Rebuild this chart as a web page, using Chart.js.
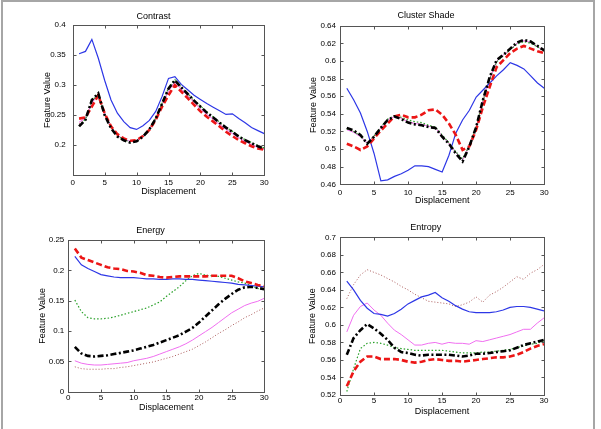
<!DOCTYPE html>
<html>
<head>
<meta charset="utf-8">
<script src="https://cdn.jsdelivr.net/npm/chart.js@4"></script>
<style>
  body { margin: 0; background: #fff; }
  #page { position: relative; width: 601px; height: 429px; overflow: hidden; }
  #frame { position: absolute; left: 1px; top: 0; width: 590px; height: 440px;
           border-left: 2px solid #a6a6a6; border-top: 2px solid #a6a6a6; border-right: 2px solid #a6a6a6; }
  canvas { position: absolute; left: 0; top: 0; }
</style>
</head>
<body>
<div id="page">
  <div id="frame"></div>
  <canvas id="contrast" width="601" height="429"></canvas>
  <canvas id="shade" width="601" height="429"></canvas>
  <canvas id="energy" width="601" height="429"></canvas>
  <canvas id="entropy" width="601" height="429"></canvas>
</div>
<script>
const displacement = [1,2,3,4,5,6,7,8,9,10,11,12,13,14,15,16,17,18,19,20,21,22,23,24,25,26,27,28,29,30];
const xTicks = [0, 5, 10, 15, 20, 25, 30];

// Contrast
const contrastBlue = [0.352,0.356,0.376,0.345,0.308,0.275,0.253,0.239,0.229,0.226,0.232,0.241,0.256,0.281,0.311,0.314,0.301,0.292,0.283,0.276,0.269,0.263,0.257,0.251,0.252,0.244,0.237,0.229,0.224,0.219];
const contrastRed = [0.244,0.246,0.264,0.283,0.253,0.231,0.218,0.211,0.207,0.208,0.215,0.225,0.242,0.264,0.283,0.300,0.289,0.278,0.267,0.256,0.247,0.239,0.231,0.222,0.215,0.208,0.203,0.198,0.194,0.192];
const contrastBlack = [0.231,0.242,0.275,0.286,0.250,0.228,0.214,0.208,0.204,0.206,0.214,0.226,0.244,0.269,0.294,0.308,0.296,0.285,0.274,0.264,0.254,0.246,0.237,0.229,0.222,0.214,0.208,0.203,0.198,0.194];
const contrastGreen = [0.232,0.243,0.274,0.285,0.251,0.229,0.215,0.209,0.205,0.207,0.215,0.227,0.245,0.270,0.295,0.309,0.297,0.286,0.275,0.265,0.255,0.247,0.238,0.230,0.223,0.215,0.209,0.204,0.199,0.195];
const contrastPink = [0.238,0.245,0.270,0.284,0.252,0.230,0.216,0.210,0.206,0.207,0.214,0.226,0.243,0.267,0.290,0.305,0.293,0.282,0.271,0.260,0.251,0.243,0.234,0.226,0.219,0.212,0.206,0.201,0.196,0.193];
const contrastBrown = [0.235,0.244,0.272,0.285,0.251,0.229,0.215,0.209,0.205,0.207,0.214,0.226,0.244,0.268,0.292,0.307,0.295,0.284,0.273,0.262,0.253,0.245,0.236,0.228,0.221,0.213,0.207,0.202,0.197,0.194];

// Cluster Shade
const shadeBlue = [0.569,0.556,0.541,0.520,0.495,0.464,0.465,0.469,0.472,0.476,0.481,0.481,0.480,0.477,0.474,0.493,0.518,0.533,0.544,0.559,0.567,0.575,0.583,0.590,0.598,0.595,0.591,0.583,0.575,0.569];
const shadeRed = [0.506,0.503,0.499,0.503,0.512,0.521,0.529,0.537,0.539,0.536,0.536,0.539,0.544,0.545,0.539,0.529,0.516,0.499,0.503,0.522,0.548,0.571,0.593,0.601,0.609,0.614,0.617,0.614,0.611,0.609];
const shadeBlack = [0.524,0.521,0.516,0.506,0.514,0.524,0.533,0.537,0.534,0.530,0.528,0.527,0.525,0.524,0.514,0.506,0.495,0.486,0.503,0.525,0.556,0.582,0.601,0.607,0.614,0.621,0.624,0.622,0.617,0.612];
const shadeGreen = [0.523,0.520,0.515,0.507,0.515,0.525,0.534,0.538,0.536,0.533,0.531,0.530,0.527,0.525,0.516,0.507,0.497,0.489,0.504,0.526,0.555,0.580,0.599,0.606,0.613,0.619,0.622,0.620,0.616,0.611];
const shadePink = [0.522,0.519,0.514,0.507,0.515,0.524,0.533,0.537,0.535,0.531,0.529,0.528,0.526,0.524,0.515,0.506,0.496,0.488,0.503,0.525,0.555,0.580,0.600,0.607,0.613,0.620,0.623,0.621,0.616,0.611];
const shadeBrown = [0.523,0.520,0.515,0.506,0.514,0.524,0.533,0.537,0.535,0.531,0.529,0.528,0.526,0.525,0.515,0.507,0.496,0.487,0.503,0.525,0.556,0.581,0.600,0.607,0.614,0.620,0.623,0.621,0.617,0.612];

// Energy
const energyBlue = [0.223,0.209,0.203,0.198,0.193,0.191,0.189,0.188,0.188,0.188,0.187,0.186,0.186,0.185,0.185,0.186,0.186,0.185,0.185,0.184,0.183,0.182,0.181,0.180,0.179,0.177,0.176,0.175,0.174,0.173];
const energyRed = [0.236,0.221,0.217,0.213,0.209,0.205,0.203,0.202,0.199,0.198,0.196,0.192,0.191,0.189,0.188,0.189,0.190,0.190,0.190,0.190,0.190,0.191,0.191,0.191,0.191,0.187,0.182,0.179,0.176,0.174];
const energyBlack = [0.074,0.063,0.059,0.058,0.059,0.060,0.062,0.064,0.066,0.068,0.071,0.074,0.077,0.081,0.085,0.089,0.093,0.099,0.105,0.114,0.124,0.134,0.144,0.153,0.161,0.168,0.172,0.173,0.171,0.169];
const energyGreen = [0.151,0.132,0.122,0.120,0.120,0.121,0.123,0.126,0.129,0.132,0.135,0.138,0.143,0.148,0.157,0.165,0.173,0.183,0.191,0.195,0.192,0.191,0.190,0.187,0.184,0.181,0.179,0.175,0.170,0.168];
const energyPink = [0.051,0.047,0.045,0.044,0.044,0.045,0.046,0.047,0.048,0.051,0.053,0.055,0.058,0.062,0.066,0.070,0.074,0.079,0.085,0.092,0.099,0.106,0.114,0.122,0.130,0.136,0.142,0.146,0.149,0.154];
const energyBrown = [0.041,0.038,0.037,0.037,0.037,0.038,0.038,0.040,0.041,0.043,0.045,0.047,0.049,0.052,0.055,0.058,0.062,0.066,0.070,0.076,0.082,0.089,0.096,0.102,0.109,0.115,0.122,0.127,0.133,0.138];

// Entropy
const entropyBlue = [0.650,0.640,0.628,0.619,0.613,0.612,0.610,0.613,0.618,0.624,0.628,0.632,0.634,0.637,0.631,0.627,0.622,0.618,0.615,0.614,0.614,0.614,0.615,0.617,0.620,0.621,0.621,0.620,0.618,0.616];
const entropyRed = [0.530,0.547,0.558,0.564,0.564,0.561,0.561,0.561,0.560,0.558,0.557,0.558,0.560,0.561,0.560,0.559,0.559,0.558,0.559,0.560,0.561,0.562,0.563,0.563,0.564,0.566,0.569,0.573,0.576,0.578];
const entropyBlack = [0.566,0.585,0.594,0.601,0.596,0.590,0.583,0.574,0.569,0.568,0.566,0.565,0.566,0.566,0.566,0.566,0.565,0.564,0.565,0.567,0.567,0.568,0.569,0.570,0.571,0.574,0.577,0.579,0.581,0.583];
const entropyGreen = [0.524,0.550,0.573,0.579,0.580,0.579,0.577,0.574,0.573,0.572,0.571,0.571,0.571,0.571,0.571,0.570,0.569,0.568,0.568,0.568,0.569,0.569,0.570,0.571,0.572,0.574,0.576,0.578,0.579,0.582];
const entropyPink = [0.592,0.611,0.621,0.625,0.617,0.611,0.602,0.594,0.589,0.583,0.577,0.577,0.579,0.580,0.578,0.580,0.579,0.579,0.578,0.582,0.581,0.583,0.585,0.587,0.589,0.592,0.595,0.595,0.602,0.608];
const entropyBrown = [0.630,0.646,0.657,0.663,0.660,0.657,0.653,0.649,0.644,0.640,0.635,0.631,0.627,0.626,0.625,0.624,0.621,0.623,0.626,0.632,0.626,0.634,0.638,0.643,0.649,0.655,0.652,0.659,0.663,0.669];

const FONT = "'Liberation Sans', Arial, sans-serif";
const TXT = '#000';

const styles = {
  blue:  { borderColor: 'rgb(45,55,230)', borderWidth: 1.2, borderDash: [] },
  red:   { borderColor: 'rgb(236,22,22)', borderWidth: 2.6, borderDash: [6, 3] },
  black: { borderColor: 'rgb(0,0,0)', borderWidth: 2.6, borderDash: [6, 2.5, 2, 2.5] },
  green: { borderColor: 'rgb(40,160,40)', borderWidth: 1.2, borderDash: [1.5, 2] },
  pink:  { borderColor: 'rgb(240,110,240)', borderWidth: 1, borderDash: [] },
  brown: { borderColor: 'rgb(170,90,90)', borderWidth: 1, borderDash: [1, 2] }
};

function series(name, vals) {
  return Object.assign({
    data: displacement.map((d, i) => ({ x: d, y: vals[i] })),
    pointRadius: 0,
    fill: false,
    tension: 0
  }, styles[name]);
}

// matlab-like box with inward ticks on all four sides
const boxPlugin = {
  id: 'box',
  afterDraw(chart) {
    const { ctx, chartArea: a, scales: { x, y } } = chart;
    ctx.save();
    ctx.strokeStyle = '#555';
    ctx.lineWidth = 1;
    const l = Math.round(a.left) + 0.5, r = Math.round(a.right) + 0.5;
    const t = Math.round(a.top) + 0.5, b = Math.round(a.bottom) + 0.5;
    ctx.strokeRect(l, t, r - l, b - t);
    ctx.beginPath();
    x.ticks.forEach(tk => {
      const px = Math.round(x.getPixelForValue(tk.value)) + 0.5;
      ctx.moveTo(px, b); ctx.lineTo(px, b - 3);
      ctx.moveTo(px, t); ctx.lineTo(px, t + 3);
    });
    y.ticks.forEach(tk => {
      const py = Math.round(y.getPixelForValue(tk.value)) + 0.5;
      ctx.moveTo(l, py); ctx.lineTo(l + 3, py);
      ctx.moveTo(r, py); ctx.lineTo(r - 3, py);
    });
    ctx.stroke();
    ctx.restore();
  }
};

function makeChart(id, p, datasets) {
  const titleLh = 9 * 1.2;
  const tickLh = 8 * 1.2;
  const xAxisH = p.xTitleY + titleLh / 2 - p.b;
  const padLeft = p.yTitleX - titleLh / 2;
  return new Chart(document.getElementById(id), {
    type: 'line',
    data: { datasets: datasets },
    options: {
      responsive: false,
      animation: false,
      layout: { padding: { left: padLeft, right: 601 - p.r, top: 0, bottom: 429 - p.b - xAxisH } },
      plugins: {
        legend: { display: false },
        tooltip: { enabled: false },
        title: {
          display: true, text: p.title, color: TXT,
          font: { family: FONT, size: 9, weight: 'normal' },
          padding: { top: p.titleY - titleLh / 2, bottom: p.t - p.titleY - titleLh / 2 }
        }
      },
      scales: {
        x: {
          type: 'linear', min: 0, max: 30,
          afterBuildTicks: s => { s.ticks = xTicks.map(v => ({ value: v })); },
          grid: { display: false, drawTicks: false },
          border: { display: false },
          ticks: { color: TXT, font: { family: FONT, size: 8 }, padding: p.xTickY - p.b - tickLh / 2, maxRotation: 0 },
          title: { display: true, text: 'Displacement', color: TXT, font: { family: FONT, size: 9 }, padding: 0 },
          afterFit: s => { s.height = xAxisH; }
        },
        y: {
          min: p.yTicks[0], max: p.yTicks[p.yTicks.length - 1],
          afterBuildTicks: s => { s.ticks = p.yTicks.map(v => ({ value: v })); },
          grid: { display: false, drawTicks: false },
          border: { display: false },
          ticks: {
            color: TXT, font: { family: FONT, size: 8 }, padding: p.yTickGap,
            callback: v => (p.hideY && p.hideY.includes(v)) ? '' : String(Number(v.toFixed(3)))
          },
          title: { display: true, text: 'Feature Value', color: TXT, font: { family: FONT, size: 9 }, padding: 0 },
          afterFit: s => { s.width = p.l - padLeft; }
        }
      }
    },
    plugins: [boxPlugin]
  });
}

makeChart('contrast', {
  title: 'Contrast', l: 72.7, r: 264.3, t: 25, b: 175,
  titleY: 17, xTickY: 182.7, xTitleY: 192, yTitleX: 48, yTickGap: 7,
  yTicks: [0.15, 0.2, 0.25, 0.3, 0.35, 0.4], hideY: [0.15]
}, [
  series('black', contrastBlack), series('red', contrastRed), series('blue', contrastBlue),
  series('green', contrastGreen), series('pink', contrastPink), series('brown', contrastBrown)
]);

makeChart('shade', {
  title: 'Cluster Shade', l: 340, r: 544.3, t: 25.7, b: 184.3,
  titleY: 16, xTickY: 192.7, xTitleY: 201, yTitleX: 313.3, yTickGap: 4,
  yTicks: [0.46, 0.48, 0.5, 0.52, 0.54, 0.56, 0.58, 0.6, 0.62, 0.64]
}, [
  series('black', shadeBlack), series('red', shadeRed), series('blue', shadeBlue),
  series('green', shadeGreen), series('pink', shadePink), series('brown', shadeBrown)
]);

makeChart('energy', {
  title: 'Energy', l: 68.3, r: 264.3, t: 240, b: 391.7,
  titleY: 230.7, xTickY: 397.7, xTitleY: 407.7, yTitleX: 42.3, yTickGap: 4,
  yTicks: [0, 0.05, 0.1, 0.15, 0.2, 0.25]
}, [
  series('red', energyRed), series('blue', energyBlue), series('black', energyBlack),
  series('green', energyGreen), series('pink', energyPink), series('brown', energyBrown)
]);

makeChart('entropy', {
  title: 'Entropy', l: 340, r: 544, t: 237.3, b: 395,
  titleY: 227.7, xTickY: 400.7, xTitleY: 411.7, yTitleX: 312.7, yTickGap: 4,
  yTicks: [0.52, 0.54, 0.56, 0.58, 0.6, 0.62, 0.64, 0.66, 0.68, 0.7]
}, [
  series('blue', entropyBlue), series('red', entropyRed), series('black', entropyBlack),
  series('green', entropyGreen), series('pink', entropyPink), series('brown', entropyBrown)
]);
</script>
</body>
</html>
